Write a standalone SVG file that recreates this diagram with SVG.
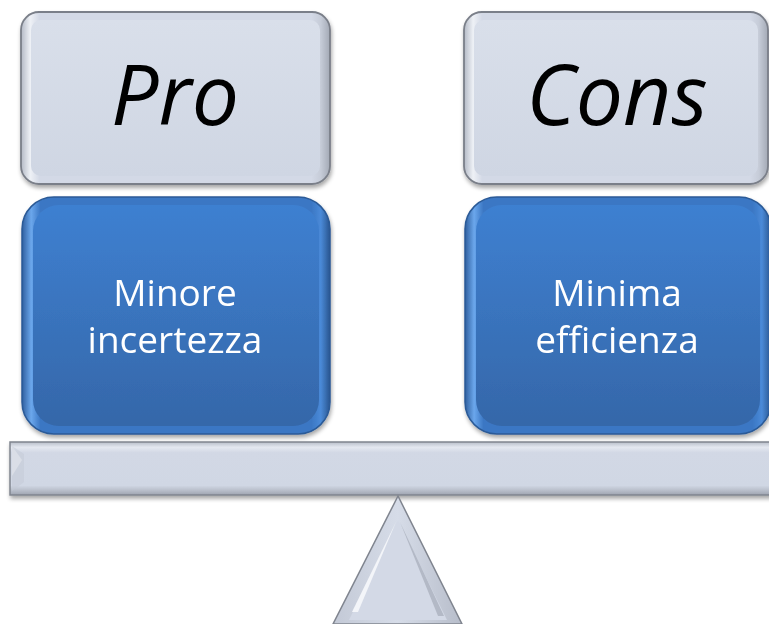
<svg xmlns="http://www.w3.org/2000/svg" width="769" height="624" viewBox="0 0 769 624">
  <defs>
    <linearGradient id="grayFace" x1="0" y1="0" x2="0" y2="1">
      <stop offset="0" stop-color="#d9dfea"/>
      <stop offset="1" stop-color="#cfd6e3"/>
    </linearGradient>
    <linearGradient id="grayRim" x1="0" y1="0" x2="1" y2="0">
      <stop offset="0" stop-color="#b3b9c5"/>
      <stop offset="0.03" stop-color="#eef1f6"/>
      <stop offset="0.06" stop-color="#d3d9e6"/>
      <stop offset="0.94" stop-color="#d3d9e6"/>
      <stop offset="0.97" stop-color="#c6ccd8"/>
      <stop offset="1" stop-color="#a3a9b5"/>
    </linearGradient>
    <linearGradient id="blueFace" x1="0" y1="0" x2="0" y2="1">
      <stop offset="0" stop-color="#3e80d1"/>
      <stop offset="1" stop-color="#3567a9"/>
    </linearGradient>
    <linearGradient id="blueRim" x1="0" y1="0" x2="1" y2="0">
      <stop offset="0" stop-color="#2f5f9f"/>
      <stop offset="0.03" stop-color="#6ba7ec"/>
      <stop offset="0.06" stop-color="#3b77c4"/>
      <stop offset="0.94" stop-color="#3b77c4"/>
      <stop offset="0.97" stop-color="#4a8ad8"/>
      <stop offset="1" stop-color="#2a558f"/>
    </linearGradient>
    <linearGradient id="beamFace" x1="0" y1="0" x2="0" y2="1">
      <stop offset="0" stop-color="#b8bec9"/>
      <stop offset="0.1" stop-color="#e4e8f0"/>
      <stop offset="0.2" stop-color="#d2d8e5"/>
      <stop offset="0.82" stop-color="#d0d7e4"/>
      <stop offset="0.9" stop-color="#bcc2ce"/>
      <stop offset="1" stop-color="#9ea4b0"/>
    </linearGradient>
    <linearGradient id="triFace" x1="0" y1="0" x2="1" y2="0">
      <stop offset="0" stop-color="#c3c9d6"/>
      <stop offset="0.5" stop-color="#d6dce8"/>
      <stop offset="1" stop-color="#b7bdca"/>
    </linearGradient>
    <filter id="shadow" x="-10%" y="-10%" width="120%" height="125%">
      <feGaussianBlur in="SourceAlpha" stdDeviation="2"/>
      <feOffset dx="1" dy="3" result="b"/>
      <feComponentTransfer><feFuncA type="linear" slope="0.35"/></feComponentTransfer>
      <feMerge><feMergeNode/><feMergeNode in="SourceGraphic"/></feMerge>
    </filter>
    <style>
      .head { font-family: "Open Sans", "Liberation Sans", sans-serif; font-style: italic; font-size: 84px; fill: #000; text-anchor: middle; }
      .body { font-family: "Open Sans", "Liberation Sans", sans-serif; font-size: 37px; fill: #fff; text-anchor: middle; }
      .grayOuter { fill: url(#grayRim); stroke: #7a7f89; stroke-width: 1.8; }
      .grayInner { fill: url(#grayFace); }
      .blueOuter { fill: url(#blueRim); stroke: #2b5a97; stroke-width: 1.5; }
      .blueInner { fill: url(#blueFace); }
    </style>
  </defs>

  <rect width="769" height="624" fill="#fff"/>

  <!-- heading: Pro -->
  <g id="pro-head" filter="url(#shadow)">
    <rect class="grayOuter" x="21" y="12" width="309" height="172" rx="18"/>
    <rect class="grayInner" x="31" y="20" width="289" height="156" rx="10"/>
    <text class="head" x="175" y="125">Pro</text>
  </g>

  <!-- heading: Cons -->
  <g id="cons-head" filter="url(#shadow)">
    <rect class="grayOuter" x="464" y="12" width="304" height="172" rx="18"/>
    <rect class="grayInner" x="474" y="20" width="284" height="156" rx="10"/>
    <text class="head" x="617" y="125">Cons</text>
  </g>

  <!-- weight: Minore incertezza -->
  <g id="pro-item" filter="url(#shadow)">
    <rect class="blueOuter" x="22" y="197" width="308" height="237" rx="32"/>
    <rect class="blueInner" x="33" y="205" width="286" height="221" rx="26"/>
    <text class="body" x="175" y="306">Minore</text>
    <text class="body" x="175" y="353">incertezza</text>
  </g>

  <!-- weight: Minima efficienza -->
  <g id="cons-item" filter="url(#shadow)">
    <rect class="blueOuter" x="465" y="197" width="306" height="237" rx="32"/>
    <rect class="blueInner" x="476" y="205" width="284" height="221" rx="26"/>
    <text class="body" x="617" y="306">Minima</text>
    <text class="body" x="617" y="353">efficienza</text>
  </g>

  <!-- balance beam -->
  <g id="beam" filter="url(#shadow)">
    <rect x="10" y="442" width="770" height="53" fill="url(#beamFace)" stroke="#80858f" stroke-width="1.5"/>
    <polygon points="12,446 22,460 12,476" fill="#f1f3f8"/>
    <polygon points="12,446 12,491 24,482 24,454" fill="#c4cad6" opacity="0.5"/>
  </g>

  <!-- fulcrum -->
  <g id="fulcrum">
    <polygon points="398,496 333,624 462,624" fill="url(#triFace)" stroke="#80858f" stroke-width="1.5"/>
    <polygon points="398,520 349,620 447,620" fill="#d3d9e6"/>
    <polygon points="396,522 352,612 358,612" fill="#f3f5f9"/>
    <polygon points="400,522 444,616 438,616" fill="#b3b9c6"/>
  </g>

  <g id="connectors"/>
</svg>
